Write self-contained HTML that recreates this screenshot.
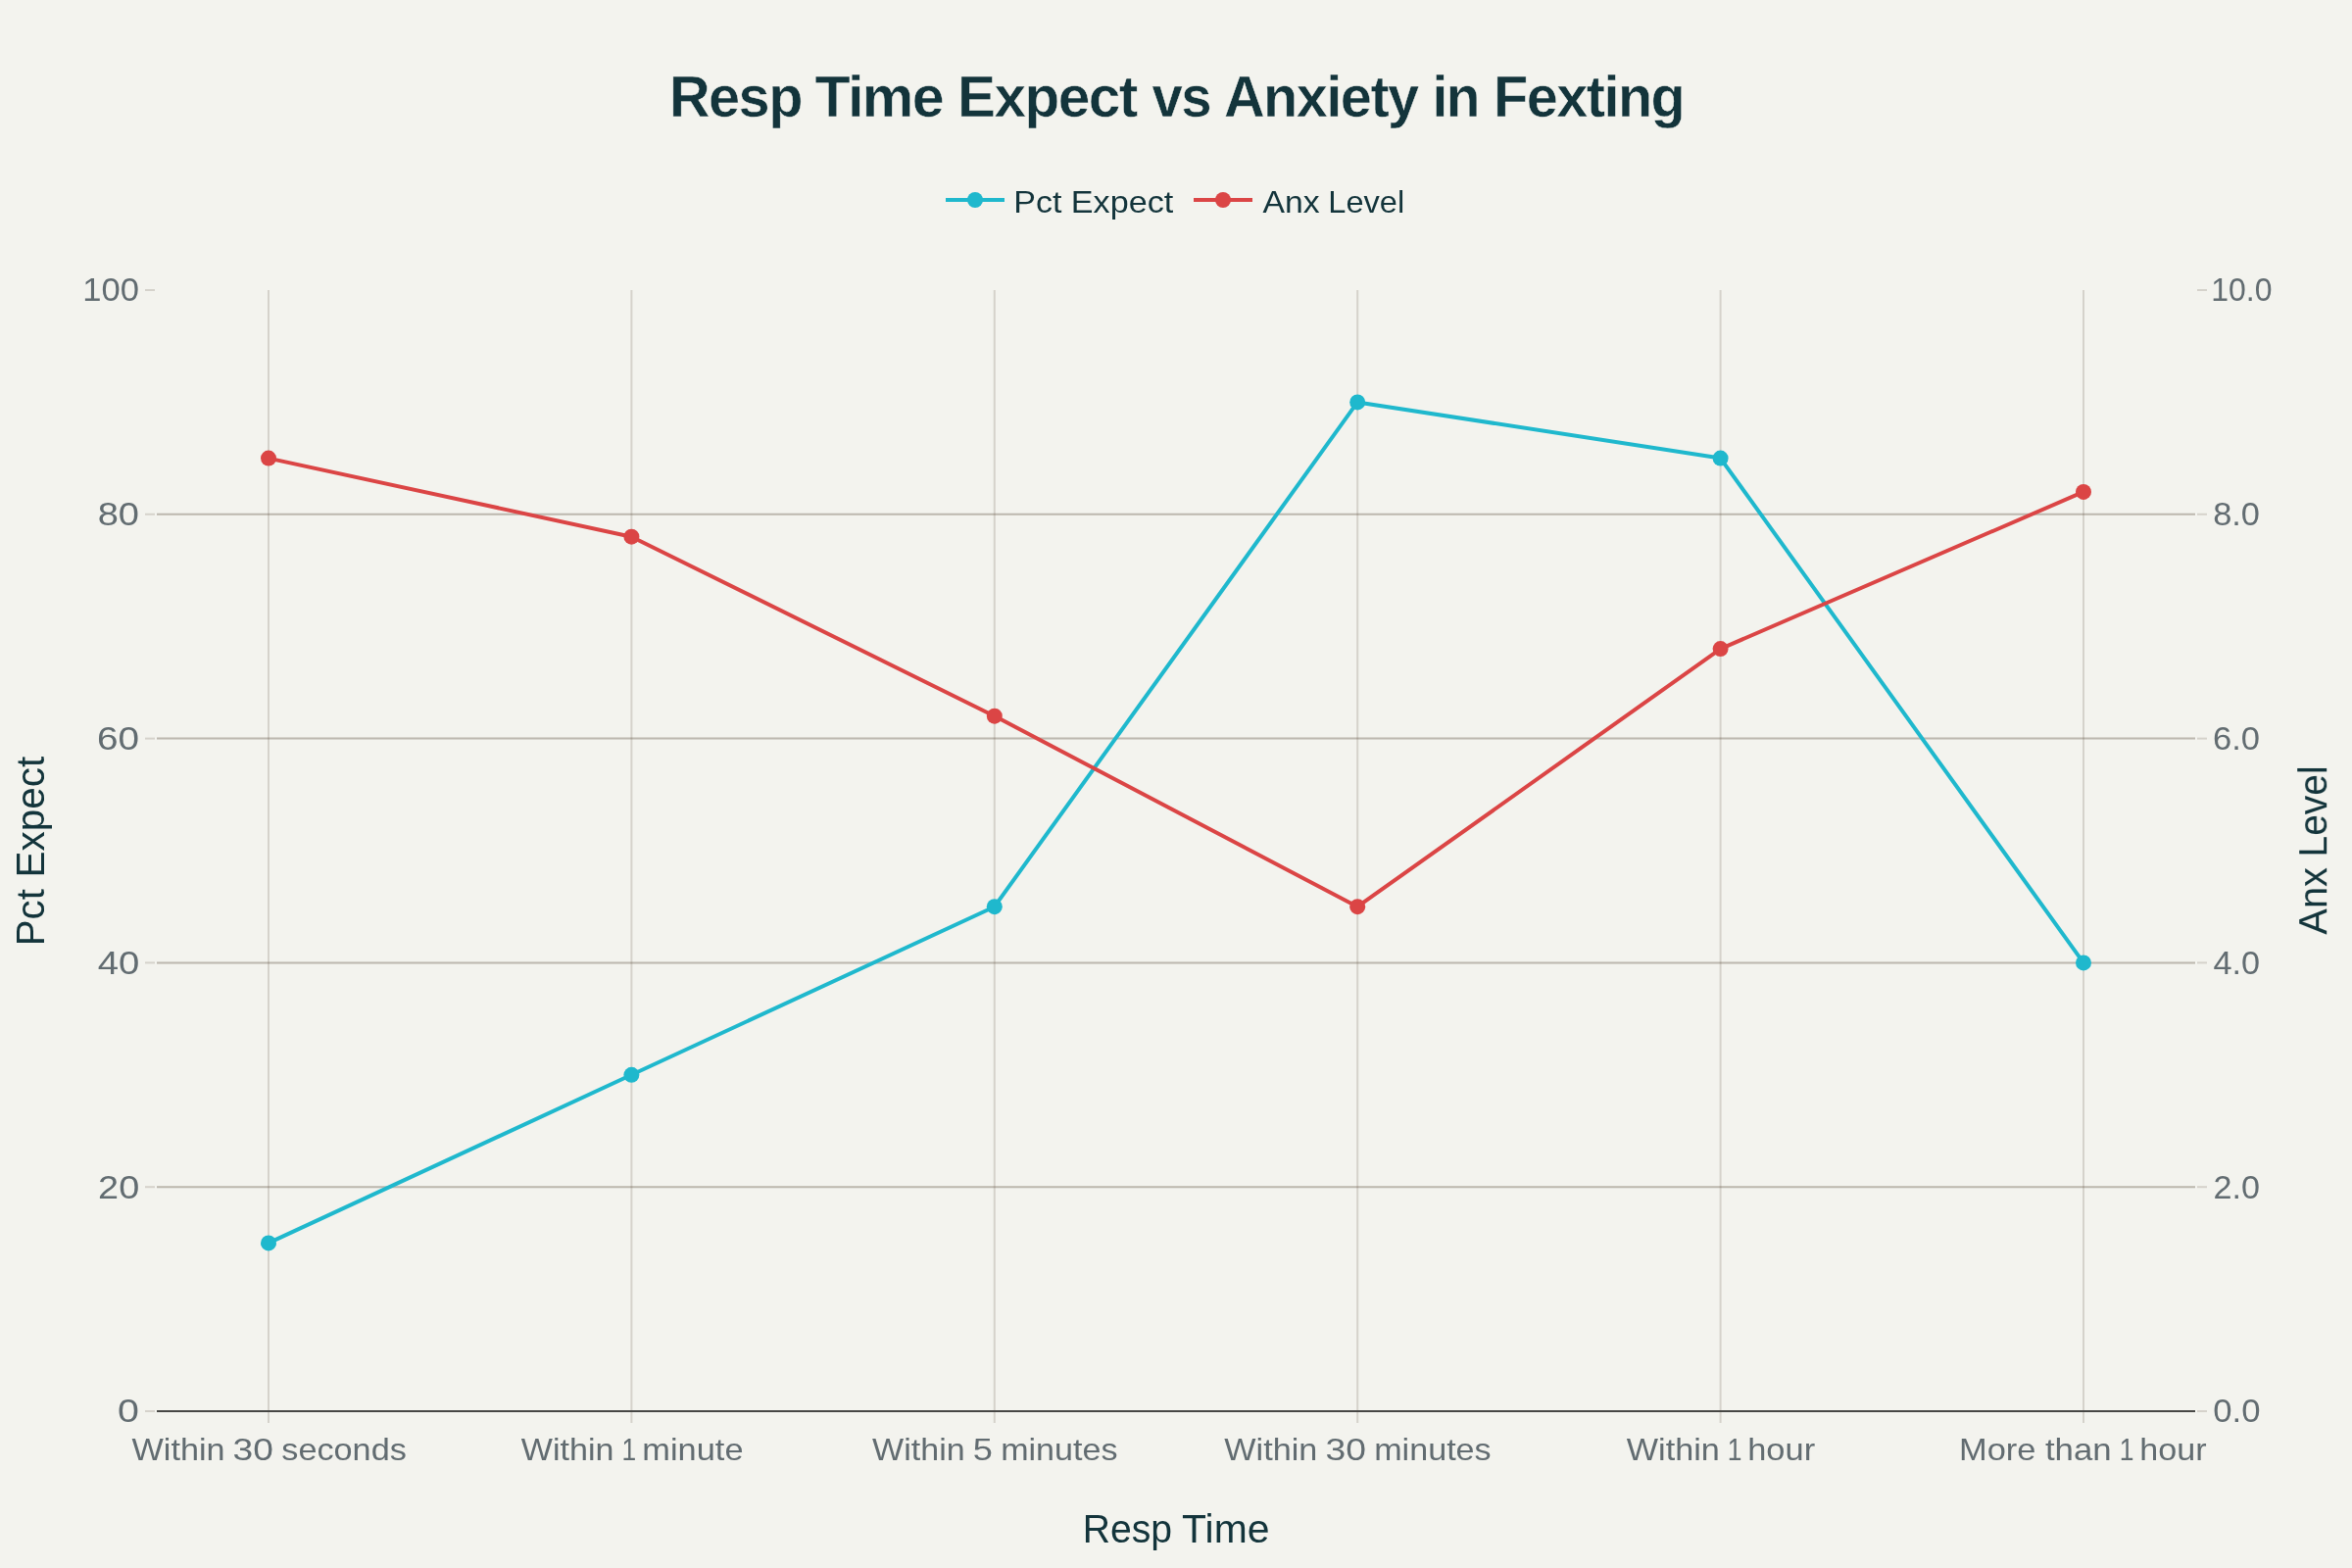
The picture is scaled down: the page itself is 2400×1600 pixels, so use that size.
<!DOCTYPE html>
<html lang="en"><head><meta charset="utf-8"><title>Resp Time Expect vs Anxiety in Fexting</title>
<style>
html,body{margin:0;padding:0;background:#F3F3EE;}
body{width:2400px;height:1600px;overflow:hidden;}
svg{display:block;}
#labels{opacity:0.999;}
text{font-family:"Liberation Sans",Arial,Helvetica,sans-serif;white-space:pre;}
.tk{font-size:32px;fill:#626C71;}
.ax{font-size:40px;fill:#13343B;}
.lg{font-size:32px;fill:#13343B;}
.tn{font-size:33px;fill:#626C71;}
.ti{font-size:59.5px;font-weight:bold;fill:#13343B;stroke:#F3F3EE;stroke-width:0.5px;letter-spacing:-1.6px;}
</style></head><body>
<svg width="2400" height="1600" viewBox="0 0 2400 1600">
<rect x="0" y="0" width="2400" height="1600" fill="#F3F3EE"/>
<g id="grid-x" stroke="rgba(94,82,64,0.2)" stroke-width="2" fill="none">
<line x1="274.0" y1="296" x2="274.0" y2="1440"/>
<line x1="644.4" y1="296" x2="644.4" y2="1440"/>
<line x1="1014.8" y1="296" x2="1014.8" y2="1440"/>
<line x1="1385.2" y1="296" x2="1385.2" y2="1440"/>
<line x1="1755.6" y1="296" x2="1755.6" y2="1440"/>
<line x1="2126.0" y1="296" x2="2126.0" y2="1440"/>
</g>
<g id="grid-y" stroke="rgba(94,82,64,0.2)" stroke-width="2" fill="none">
<line x1="160" y1="1211.2" x2="2240" y2="1211.2"/>
<line x1="160" y1="982.4" x2="2240" y2="982.4"/>
<line x1="160" y1="753.6" x2="2240" y2="753.6"/>
<line x1="160" y1="524.8" x2="2240" y2="524.8"/>
</g>
<g id="grid-y2" stroke="rgba(94,82,64,0.2)" stroke-width="2" fill="none">
<line x1="160" y1="1211.2" x2="2240" y2="1211.2"/>
<line x1="160" y1="982.4" x2="2240" y2="982.4"/>
<line x1="160" y1="753.6" x2="2240" y2="753.6"/>
<line x1="160" y1="524.8" x2="2240" y2="524.8"/>
</g>
<line id="zeroline" x1="160" y1="1440" x2="2240" y2="1440" stroke="#474745" stroke-width="2"/>
<g id="ticks" stroke="rgba(94,82,64,0.2)" stroke-width="2" fill="none">
<line x1="274.0" y1="1441" x2="274.0" y2="1452"/>
<line x1="644.4" y1="1441" x2="644.4" y2="1452"/>
<line x1="1014.8" y1="1441" x2="1014.8" y2="1452"/>
<line x1="1385.2" y1="1441" x2="1385.2" y2="1452"/>
<line x1="1755.6" y1="1441" x2="1755.6" y2="1452"/>
<line x1="2126.0" y1="1441" x2="2126.0" y2="1452"/>
<line x1="148" y1="1440.0" x2="158" y2="1440.0"/>
<line x1="2242" y1="1440.0" x2="2252" y2="1440.0"/>
<line x1="148" y1="1211.2" x2="158" y2="1211.2"/>
<line x1="2242" y1="1211.2" x2="2252" y2="1211.2"/>
<line x1="148" y1="982.4" x2="158" y2="982.4"/>
<line x1="2242" y1="982.4" x2="2252" y2="982.4"/>
<line x1="148" y1="753.6" x2="158" y2="753.6"/>
<line x1="2242" y1="753.6" x2="2252" y2="753.6"/>
<line x1="148" y1="524.8" x2="158" y2="524.8"/>
<line x1="2242" y1="524.8" x2="2252" y2="524.8"/>
<line x1="148" y1="296.0" x2="158" y2="296.0"/>
<line x1="2242" y1="296.0" x2="2252" y2="296.0"/>
</g>
<g id="trace-pct">
<polyline points="274.0,1268.4 644.4,1096.8 1014.8,925.2 1385.2,410.4 1755.6,467.6 2126.0,982.4" fill="none" stroke="#1FB8CD" stroke-width="4" stroke-linejoin="round"/>
<circle cx="274.0" cy="1268.4" r="8" fill="#1FB8CD"/>
<circle cx="644.4" cy="1096.8" r="8" fill="#1FB8CD"/>
<circle cx="1014.8" cy="925.2" r="8" fill="#1FB8CD"/>
<circle cx="1385.2" cy="410.4" r="8" fill="#1FB8CD"/>
<circle cx="1755.6" cy="467.6" r="8" fill="#1FB8CD"/>
<circle cx="2126.0" cy="982.4" r="8" fill="#1FB8CD"/>
</g>
<g id="trace-anx">
<polyline points="274.0,467.6 644.4,547.7 1014.8,730.7 1385.2,925.2 1755.6,662.1 2126.0,501.9" fill="none" stroke="#DB4545" stroke-width="4" stroke-linejoin="round"/>
<circle cx="274.0" cy="467.6" r="8" fill="#DB4545"/>
<circle cx="644.4" cy="547.7" r="8" fill="#DB4545"/>
<circle cx="1014.8" cy="730.7" r="8" fill="#DB4545"/>
<circle cx="1385.2" cy="925.2" r="8" fill="#DB4545"/>
<circle cx="1755.6" cy="662.1" r="8" fill="#DB4545"/>
<circle cx="2126.0" cy="501.9" r="8" fill="#DB4545"/>
</g>
<g id="legend"><line x1="965" y1="204" x2="1025" y2="204" stroke="#1FB8CD" stroke-width="4"/><circle cx="995" cy="204" r="8" fill="#1FB8CD"/>
<line x1="1218" y1="204" x2="1278" y2="204" stroke="#DB4545" stroke-width="4"/><circle cx="1248" cy="204" r="8" fill="#DB4545"/></g>
<g id="labels">
<text id="title" class="ti" y="118.80"><tspan id="ti0" x="682.92" textLength="134.95" lengthAdjust="spacingAndGlyphs">Resp</tspan> <tspan id="ti1" x="831.54" textLength="130.60" lengthAdjust="spacingAndGlyphs">Time</tspan> <tspan id="ti2" x="977.08" textLength="182.72" lengthAdjust="spacingAndGlyphs">Expect</tspan> <tspan id="ti3" x="1175.58" textLength="59.58" lengthAdjust="spacingAndGlyphs">vs</tspan> <tspan id="ti4" x="1248.89" textLength="197.80" lengthAdjust="spacingAndGlyphs">Anxiety</tspan> <tspan id="ti5" x="1461.40" textLength="47.42" lengthAdjust="spacingAndGlyphs">in</tspan> <tspan id="ti6" x="1524.03" textLength="194.28" lengthAdjust="spacingAndGlyphs">Fexting</tspan></text>
<text id="legend-pct" class="lg" y="216.80"><tspan id="lg0" x="1034.31" textLength="49.03" lengthAdjust="spacingAndGlyphs">Pct</tspan> <tspan id="lg1" x="1092.81" textLength="104.43" lengthAdjust="spacingAndGlyphs">Expect</tspan></text>
<text id="legend-anx" class="lg" y="216.80"><tspan id="lg2" x="1288.57" textLength="58.09" lengthAdjust="spacingAndGlyphs">Anx</tspan> <tspan id="lg3" x="1355.34" textLength="77.83" lengthAdjust="spacingAndGlyphs">Level</tspan></text>
<text id="xtick0" class="tk" y="1489.80"><tspan id="xt0_0" x="134.58" textLength="95.06" lengthAdjust="spacingAndGlyphs">Within</tspan> <tspan id="xt0_1" x="237.44" textLength="41.40" lengthAdjust="spacingAndGlyphs">30</tspan> <tspan id="xt0_2" x="287.28" textLength="127.59" lengthAdjust="spacingAndGlyphs">seconds</tspan></text>
<text id="xtick1" class="tk" y="1489.80"><tspan id="xt1_0" x="531.82" textLength="94.75" lengthAdjust="spacingAndGlyphs">Within</tspan> <tspan id="xt1_1" x="634.49" textLength="14.65" lengthAdjust="spacingAndGlyphs">1</tspan> <tspan id="xt1_2" x="655.34" textLength="103.22" lengthAdjust="spacingAndGlyphs">minute</tspan></text>
<text id="xtick2" class="tk" y="1489.80"><tspan id="xt2_0" x="890.10" textLength="94.58" lengthAdjust="spacingAndGlyphs">Within</tspan> <tspan id="xt2_1" x="992.74" textLength="20.11" lengthAdjust="spacingAndGlyphs">5</tspan> <tspan id="xt2_2" x="1021.16" textLength="119.25" lengthAdjust="spacingAndGlyphs">minutes</tspan></text>
<text id="xtick3" class="tk" y="1489.80"><tspan id="xt3_0" x="1249.33" textLength="95.02" lengthAdjust="spacingAndGlyphs">Within</tspan> <tspan id="xt3_1" x="1352.43" textLength="41.46" lengthAdjust="spacingAndGlyphs">30</tspan> <tspan id="xt3_2" x="1402.15" textLength="119.52" lengthAdjust="spacingAndGlyphs">minutes</tspan></text>
<text id="xtick4" class="tk" y="1489.80"><tspan id="xt4_0" x="1659.83" textLength="95.05" lengthAdjust="spacingAndGlyphs">Within</tspan> <tspan id="xt4_1" x="1762.78" textLength="14.71" lengthAdjust="spacingAndGlyphs">1</tspan> <tspan id="xt4_2" x="1783.23" textLength="68.90" lengthAdjust="spacingAndGlyphs">hour</tspan></text>
<text id="xtick5" class="tk" y="1489.80"><tspan id="xt5_0" x="1999.01" textLength="78.47" lengthAdjust="spacingAndGlyphs">More</tspan> <tspan id="xt5_1" x="2086.94" textLength="67.69" lengthAdjust="spacingAndGlyphs">than</tspan> <tspan id="xt5_2" x="2162.68" textLength="14.72" lengthAdjust="spacingAndGlyphs">1</tspan> <tspan id="xt5_3" x="2183.39" textLength="68.30" lengthAdjust="spacingAndGlyphs">hour</tspan></text>
<text id="yl100" class="tn" y="307.40"><tspan id="yl100" x="84.18" textLength="57.69" lengthAdjust="spacingAndGlyphs">100</tspan></text>
<text id="yl80" class="tn" y="536.20"><tspan id="yl80" x="99.70" textLength="42.36" lengthAdjust="spacingAndGlyphs">80</tspan></text>
<text id="yl60" class="tn" y="765.00"><tspan id="yl60" x="99.05" textLength="43.08" lengthAdjust="spacingAndGlyphs">60</tspan></text>
<text id="yl40" class="tn" y="993.80"><tspan id="yl40" x="99.65" textLength="42.56" lengthAdjust="spacingAndGlyphs">40</tspan></text>
<text id="yl20" class="tn" y="1222.60"><tspan id="yl20" x="100.12" textLength="42.10" lengthAdjust="spacingAndGlyphs">20</tspan></text>
<text id="yl0" class="tn" y="1451.40"><tspan id="yl0" x="120.13" textLength="21.88" lengthAdjust="spacingAndGlyphs">0</tspan></text>
<text id="yr100" class="tn" y="307.40"><tspan id="yr100" x="2256.16" textLength="62.32" lengthAdjust="spacingAndGlyphs">10.0</tspan></text>
<text id="yr80" class="tn" y="536.20"><tspan id="yr80" x="2258.15" textLength="47.86" lengthAdjust="spacingAndGlyphs">8.0</tspan></text>
<text id="yr60" class="tn" y="765.00"><tspan id="yr60" x="2257.96" textLength="48.08" lengthAdjust="spacingAndGlyphs">6.0</tspan></text>
<text id="yr40" class="tn" y="993.80"><tspan id="yr40" x="2258.44" textLength="47.62" lengthAdjust="spacingAndGlyphs">4.0</tspan></text>
<text id="yr20" class="tn" y="1222.60"><tspan id="yr20" x="2258.52" textLength="47.55" lengthAdjust="spacingAndGlyphs">2.0</tspan></text>
<text id="yr0" class="tn" y="1451.40"><tspan id="yr0" x="2258.28" textLength="48.29" lengthAdjust="spacingAndGlyphs">0.0</tspan></text>
<text id="xaxis-title" class="ax" y="1573.70"><tspan id="xa0" x="1104.77" textLength="91.35" lengthAdjust="spacingAndGlyphs">Resp</tspan> <tspan id="xa1" x="1206.10" textLength="89.34" lengthAdjust="spacingAndGlyphs">Time</tspan></text>
<text id="yaxis-title" class="ax" transform="translate(45.00,0) rotate(-90)" y="0"><tspan id="ya0" x="-965.21" textLength="58.02" lengthAdjust="spacingAndGlyphs">Pct</tspan> <tspan id="ya1" x="-895.54" textLength="123.73" lengthAdjust="spacingAndGlyphs">Expect</tspan></text>
<text id="y2axis-title" class="ax" transform="translate(2374.20,0) rotate(-90)" y="0"><tspan id="yb0" x="-953.68" textLength="68.68" lengthAdjust="spacingAndGlyphs">Anx</tspan> <tspan id="yb1" x="-874.38" textLength="92.89" lengthAdjust="spacingAndGlyphs">Level</tspan></text>
</g>
</svg></body></html>
